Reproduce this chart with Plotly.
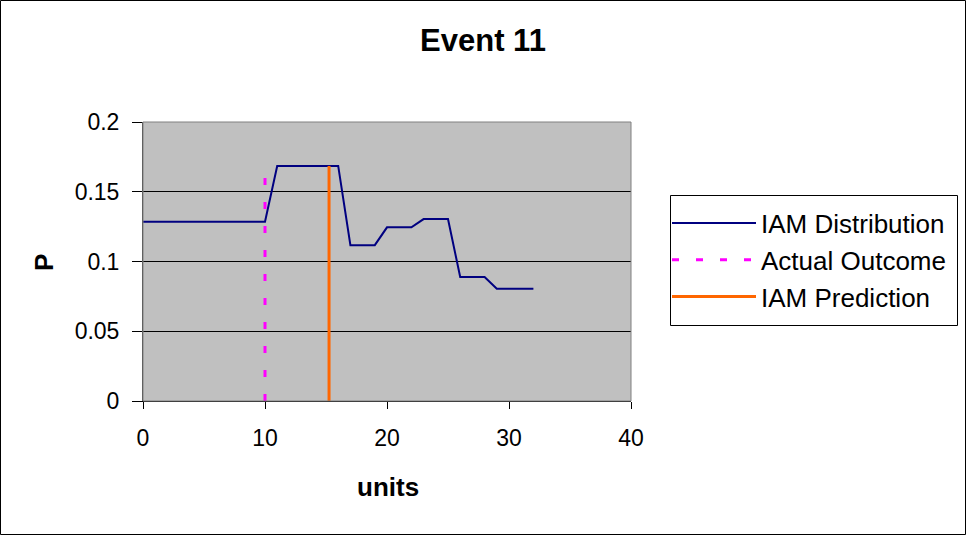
import plotly.graph_objects as go

units = list(range(0, 33))
iam_dist = ([0.1285] * 11 + [0.1685] * 6 + [0.1117] * 3 + [0.1245] * 3 +
            [0.1304] * 3 + [0.0889] * 3 + [0.0804] * 4)
actual_x = [10, 10]
actual_y = [0, 0.16]
pred_x = [15.25, 15.25]
pred_y = [0, 0.1685]

x_ticks = [0, 10, 20, 30, 40]
y_ticks = [0, 0.05, 0.1, 0.15, 0.2]
y_tick_text = ["0", "0.05", "0.1", "0.15", "0.2"]

W, H = 966, 535
L, R, T, B = 143, 335, 122, 134
pw = W - L - R
ph = H - T - B


def px_x(p):
    return (p - L) / pw


def px_y(p):
    return (H - B - p) / ph


fig = go.Figure()
fig.add_trace(go.Scatter(x=units, y=iam_dist, mode="lines", name="IAM Distribution",
                         line=dict(color="#000080", width=2)))
fig.add_trace(go.Scatter(x=actual_x, y=actual_y, mode="lines", name="Actual Outcome",
                         line=dict(color="#FF00FF", width=3, dash="7px,17px")))
fig.add_trace(go.Scatter(x=pred_x, y=pred_y, mode="lines", name="IAM Prediction",
                         line=dict(color="#FF6600", width=3)))

font = "Arial, Liberation Sans, sans-serif"
fig.update_layout(
    width=W, height=H,
    margin=dict(l=L, r=R, t=T, b=B),
    paper_bgcolor="white", plot_bgcolor="#C0C0C0",
    font=dict(family=font, size=23, color="black"),
    title=dict(text="<b>Event 11</b>", x=px_x(483), xref="paper", xanchor="center",
               y=1 - 40 / H, yref="container", yanchor="middle",
               font=dict(size=31, family=font)),
    xaxis=dict(range=[0, 40], tickvals=x_ticks, showgrid=False, zeroline=False,
               showline=True, linecolor="black", linewidth=1,
               ticks="outside", ticklen=7, tickcolor="black",
               ticklabelstandoff=9, tickfont=dict(size=23)),
    yaxis=dict(range=[0, 0.2], tickvals=y_ticks, ticktext=y_tick_text,
               showgrid=True, gridcolor="black", gridwidth=1, zeroline=False,
               showline=True, linecolor="#404040", linewidth=1,
               ticks="outside", ticklen=10, tickcolor="black",
               ticklabelstandoff=8, tickfont=dict(size=23)),
    legend=dict(x=px_x(667), y=px_y(260), xanchor="left", yanchor="middle",
                borderwidth=0, bgcolor="rgba(0,0,0,0)",
                font=dict(size=26, family=font), tracegroupgap=0, itemwidth=84),
    showlegend=True,
)

# plot area border (gray top/right)
fig.add_shape(type="rect", xref="paper", yref="paper", x0=0, y0=0, x1=1, y1=1,
              line=dict(color="#808080", width=1), layer="above")
# legend box
fig.add_shape(type="rect", xref="paper", yref="paper",
              x0=px_x(670.5), x1=px_x(957.5), y0=px_y(325.5), y1=px_y(195.5),
              line=dict(color="black", width=1), fillcolor="white", layer="below")
# outer chart border
fig.add_shape(type="rect", xref="paper", yref="paper",
              x0=px_x(0.5), x1=px_x(W - 0.5), y0=px_y(H - 0.5), y1=px_y(0.5),
              line=dict(color="black", width=1))

fig.add_annotation(text="<b>units</b>", xref="paper", yref="paper",
                   x=px_x(388), y=px_y(487), showarrow=False,
                   xanchor="center", yanchor="middle", font=dict(size=26, family=font))
fig.add_annotation(text="<b>P</b>", xref="paper", yref="paper",
                   x=px_x(44), y=px_y(263), showarrow=False, textangle=-90,
                   xanchor="center", yanchor="middle", font=dict(size=26, family=font))

fig.write_html("out.html", config={"displayModeBar": False},
               post_script="document.body.style.margin='0px';")
